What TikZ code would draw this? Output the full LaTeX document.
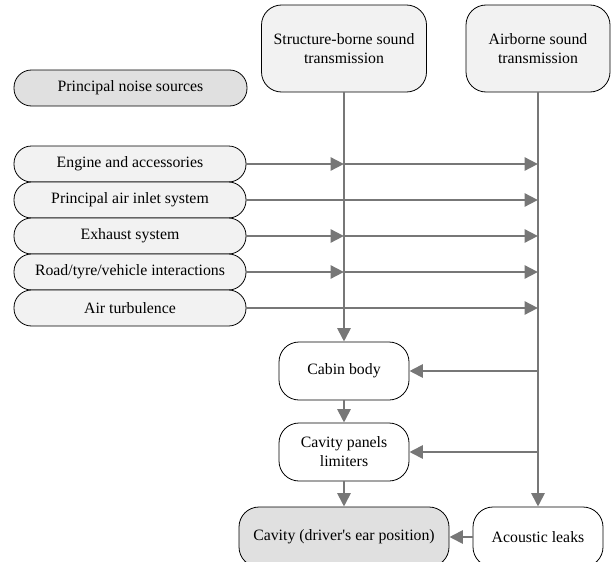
\documentclass[tikz,border=0pt]{standalone}
\usepackage{fontspec}
\newfontfamily\diagfont{Liberation Serif}
\usetikzlibrary{arrows.meta}
\definecolor{fillgray}{HTML}{E0E0E0}
\definecolor{filllight}{HTML}{F2F2F2}
\definecolor{linegray}{HTML}{777777}
\begin{document}
\begin{tikzpicture}[x=1pt,y=-1pt,
  every node/.style={font=\diagfont\fontsize{15.8}{19}\selectfont, align=center, inner sep=0pt},
  boxbase/.style={draw=black, line width=0.8pt, rounded corners=20pt},
  srcbox/.style={boxbase, fill=filllight, rounded corners=17.5pt, minimum width=232pt, minimum height=36pt},
  headbox/.style={boxbase, fill=filllight, minimum height=87pt},
  whitebox/.style={boxbase, fill=white, minimum width=130pt, minimum height=58pt},
  conn/.style={draw=linegray, line width=2.9pt},
  arr/.style={conn, -{Triangle[length=13.5pt,width=13pt]}, linegray}
]
\useasboundingbox (0,0) rectangle (611,562);
\clip (0,0) rectangle (611,562);

\node[headbox, minimum width=165pt] (struct) at (344,48.5) {Structure-borne sound\\transmission};
\node[headbox, minimum width=144pt] (air) at (538,48.5) {Airborne sound\\transmission};

\node[srcbox, fill=fillgray, minimum width=233pt] (pns) at (130.5,88) {Principal noise sources};
\node[srcbox] (eng) at (130,164) {Engine and accessories};
\node[srcbox] (inlet) at (130,200) {Principal air inlet system};
\node[srcbox] (exh) at (130,236) {Exhaust system};
\node[srcbox] (road) at (130,272) {Road/tyre/vehicle interactions};
\node[srcbox] (turb) at (130,308) {Air turbulence};

\node[whitebox] (cabin) at (344,371) {Cabin body};
\node[whitebox] (panels) at (344,452) {Cavity panels\\limiters};
\node[boxbase, fill=fillgray, minimum width=210pt, minimum height=60pt] (cavity) at (344,537) {Cavity (driver's ear position)};
\node[whitebox, minimum height=60pt] (leaks) at (538,537) {Acoustic leaks};

% vertical trunks
\draw[arr] (struct.south) -- (cabin.north);
\draw[arr] (air.south) -- (leaks.north);

% sources
\draw[arr] (eng.east) -- (eng.east -| struct.south);
\draw[arr] (eng.east -| struct.south) -- (eng.east -| air.south);
\draw[arr] (inlet.east) -- (inlet.east -| air.south);
\draw[arr] (exh.east) -- (exh.east -| struct.south);
\draw[arr] (exh.east -| struct.south) -- (exh.east -| air.south);
\draw[arr] (road.east) -- (road.east -| struct.south);
\draw[arr] (road.east -| struct.south) -- (road.east -| air.south);
\draw[arr] (turb.east) -- (turb.east -| air.south);

% branches
\draw[arr] (cabin.east -| air.south) -- (cabin.east);
\draw[arr] (panels.east -| air.south) -- (panels.east);
\draw[arr] (cabin.south) -- (panels.north);
\draw[arr] (panels.south) -- (cavity.north);
\draw[arr] (leaks.west) -- (cavity.east);
\end{tikzpicture}
\end{document}
